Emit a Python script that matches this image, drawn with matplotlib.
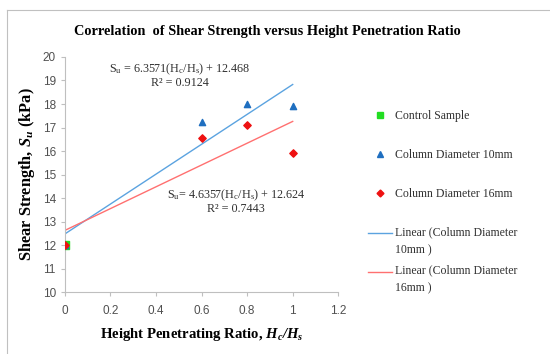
import numpy as np
import matplotlib.pyplot as plt
from matplotlib.lines import Line2D
from matplotlib.legend_handler import HandlerLine2D

plt.rcParams['mathtext.fontset'] = 'custom'
plt.rcParams['mathtext.rm'] = 'Liberation Serif'
plt.rcParams['mathtext.it'] = 'Liberation Serif:italic'
plt.rcParams['mathtext.bf'] = 'Liberation Serif:bold:italic'

# Data
control_x = [0]
control_y = [12.0]
ratio = [0, 0.6, 0.8, 1.0]
strength_10mm = [12.0, 17.25, 18.0, 17.9]
strength_16mm = [12.0, 16.57, 17.12, 15.93]

serif = 'Liberation Serif'
sans = 'Liberation Sans'


class TopLineHandler(HandlerLine2D):
    # put the trendline sample next to the first line of a two-line label
    def create_artists(self, legend, orig_handle, xdescent, ydescent, width, height, fontsize, trans):
        artists = super().create_artists(legend, orig_handle, xdescent, ydescent, width, height, fontsize, trans)
        for a in artists:
            a.set_ydata(np.asarray(a.get_ydata()) + 0.7 * fontsize)
        return artists


fig = plt.figure(figsize=(5.5, 3.54), dpi=100)
ax = fig.add_axes([0.118, 0.175, 0.497, 0.664])

# Outer chart frame (left and top edges visible)
fig.add_artist(Line2D([7 / 550, 7 / 550], [0, 1 - 10 / 354], transform=fig.transFigure, color='#c0c0c0', lw=0.8))
fig.add_artist(Line2D([7 / 550, 1], [1 - 10 / 354, 1 - 10 / 354], transform=fig.transFigure, color='#c0c0c0', lw=0.8))

# Linear trend lines
xfit = np.array([0, 1.0])
p10 = np.polyfit(ratio, strength_10mm, 1)
p16 = np.polyfit(ratio, strength_16mm, 1)
ax.plot(xfit, np.polyval(p10, xfit), color='#5ba3e0', lw=1.0, zorder=2)
ax.plot(xfit, np.polyval(p16, xfit), color='#ff7070', lw=1.0, zorder=2)

# Points
ax.scatter(control_x, control_y, marker='s', s=30, color='#22dd22', zorder=3)
ax.scatter(ratio, strength_10mm, marker='^', s=20, color='#1f6fc0', zorder=4)
ax.scatter(ratio, strength_16mm, marker='D', s=14, color='#ee1111', zorder=5)

ax.set_xlim(0, 1.2)
ax.set_ylim(10, 20)
ax.set_xticks(np.arange(0, 1.21, 0.2))
ax.set_xticklabels(['0', '0.2', '0.4', '0.6', '0.8', '1', '1.2'])
ax.set_yticks(range(10, 21))

for s in ['top', 'right']:
    ax.spines[s].set_visible(False)
for s in ['left', 'bottom']:
    ax.spines[s].set_color('#bfbfbf')
    ax.spines[s].set_linewidth(0.8)
ax.tick_params(direction='out', length=3, width=0.8, color='#bfbfbf', labelcolor='#505050', labelsize=8.5)
ax.tick_params(axis='x', pad=6)
for lab in ax.get_xticklabels() + ax.get_yticklabels():
    lab.set_fontfamily(sans)

fig.text(267 / 550, 1 - 31 / 354, 'Correlation  of Shear Strength versus Height Penetration Ratio',
         ha='center', va='center', fontfamily=serif, fontweight='bold', fontsize=10.3)
ax.set_xlabel(r'Height Penetrating Ratio, $\mathbf{H_c/H_s}$', fontfamily=serif,
              fontweight='bold', fontsize=10.6, labelpad=7)
ax.set_ylabel(r'Shear Strength, $\mathbf{S_u}$ (kPa)', fontfamily=serif,
              fontweight='bold', fontsize=11.8, labelpad=4)

# Trendline equations
ax.text(0.505, 19.21, '$\\mathrm{S_u}$ = 6.3571($\\mathrm{H_c/H_s}$) + 12.468\nR² = 0.9124',
        ha='center', va='center', fontfamily=serif, fontsize=8.7, color='#303030', linespacing=1.05)
ax.text(0.752, 13.87, '$\\mathrm{S_u}$= 4.6357($\\mathrm{H_c/H_s}$) + 12.624\nR² = 0.7443',
        ha='center', va='center', fontfamily=serif, fontsize=8.7, color='#303030', linespacing=1.05)

# Legend: marker entries and trendline entries
marker_handles = [
    Line2D([], [], ls='none', marker='s', ms=5, color='#22dd22'),
    Line2D([], [], ls='none', marker='^', ms=4.5, color='#1f6fc0'),
    Line2D([], [], ls='none', marker='D', ms=3.5, color='#ee1111'),
]
marker_labels = ['Control Sample', 'Column Diameter 10mm', 'Column Diameter 16mm']
line_handles = [
    Line2D([], [], color='#5ba3e0', lw=1.0),
    Line2D([], [], color='#ff7070', lw=1.0),
]
line_labels = ['Linear (Column Diameter\n10mm )', 'Linear (Column Diameter\n16mm )']

leg1 = fig.legend(marker_handles, marker_labels, loc='upper left', bbox_to_anchor=(362 / 550, 1 - 104 / 354),
                  frameon=False, prop={'family': serif, 'size': 8.5}, labelspacing=2.3,
                  handlelength=2.0, handletextpad=0.3, borderpad=0, labelcolor='#303030')
leg2 = fig.legend(line_handles, line_labels, loc='upper left', bbox_to_anchor=(362 / 550, 1 - 220 / 354),
                  frameon=False, prop={'family': serif, 'size': 8.5}, labelspacing=0.7,
                  handlelength=2.0, handletextpad=0.3, borderpad=0, labelcolor='#303030',
                  handler_map={h: TopLineHandler() for h in line_handles})
for t in leg2.get_texts():
    t.set_linespacing(1.7)

fig.savefig('out.png', dpi=100)
